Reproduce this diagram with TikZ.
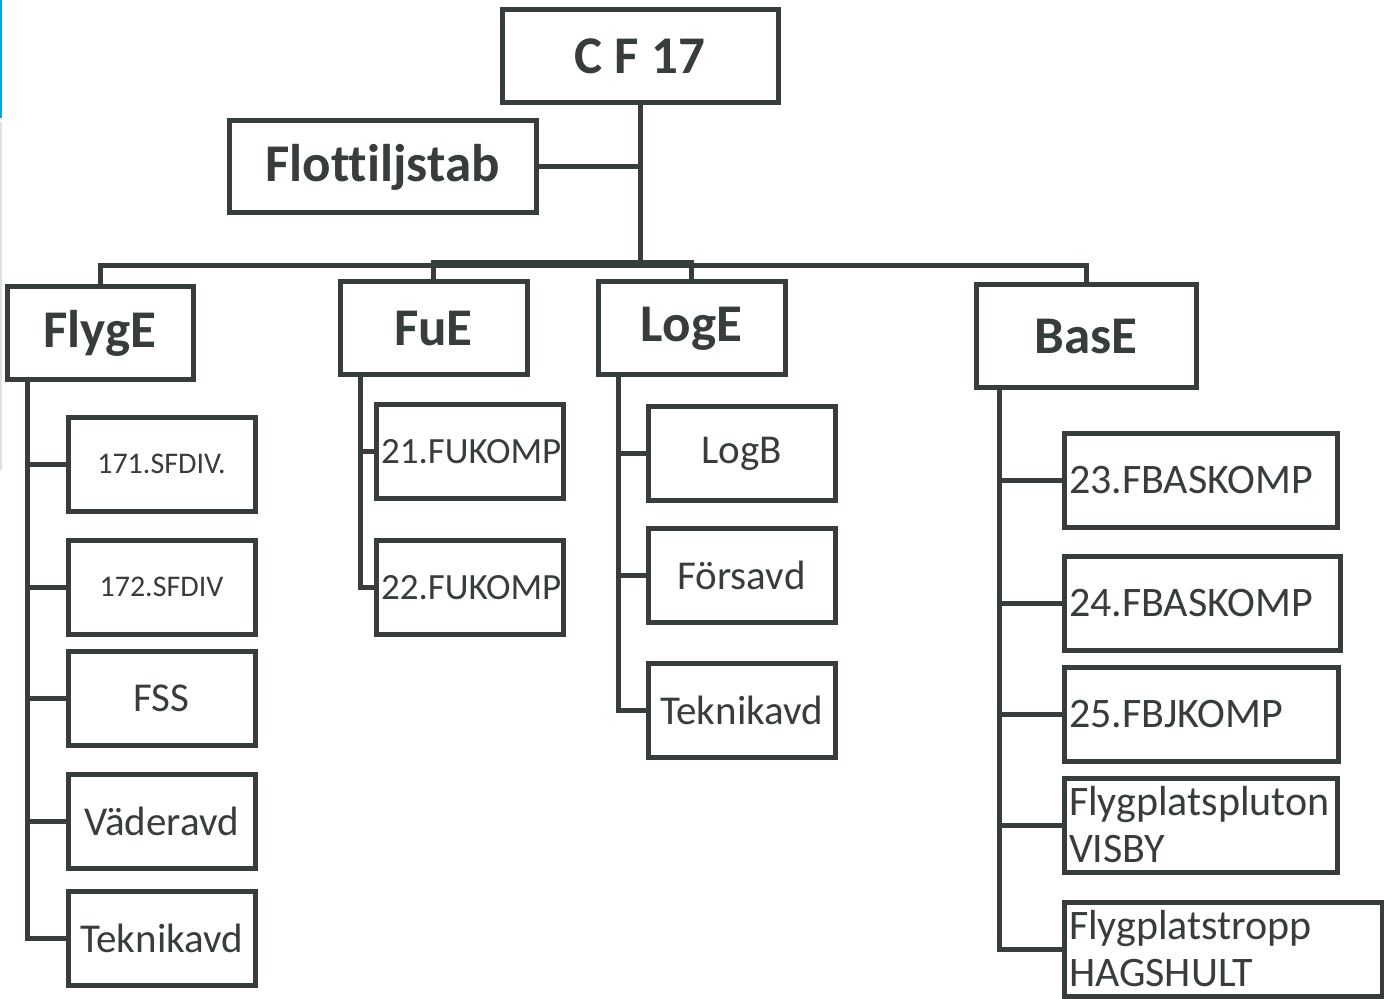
\documentclass[tikz,border=0pt]{standalone}
\usepackage{fontspec}
\setmainfont{Carlito}[Ligatures=NoCommon]
\usepackage{tikz}
\definecolor{orggrey}{RGB}{55,61,59}
\tikzset{
    every node/.style={align=center,text=orggrey,},
    unit/.style={draw=orggrey,line width=2.5pt,rectangle,inner sep=0pt,font=\fontsize{26.5}{31}\selectfont\bfseries,},
    sub/.style={draw=orggrey,line width=2.5pt,rectangle,inner sep=0pt,minimum width=93.5pt,minimum height=47pt,font=\fontsize{20.5}{24}\selectfont,},
    subleft/.style={draw=orggrey,line width=2.5pt,rectangle,inner xsep=2.5pt,inner ysep=0pt,minimum height=47pt,text width=#1,align=left,font=\fontsize{21}{23.5}\selectfont,},
    link/.style={draw=orggrey,line width=2.5pt,},
}

\begin{document}
\begin{tikzpicture}[x=0.5pt,y=-0.5pt]
                \useasboundingbox (0,0) rectangle (1384,999);
                \draw[cyan!90!blue,line width=1pt] (1,0) -- (1,118);
                \draw[black!12,line width=1pt] (1,122) -- (1,470);

                \node[unit,minimum width=138pt,minimum height=46.5pt] (cf) at (640,56.5) {C F 17};
                \node[unit,minimum width=153.5pt,minimum height=46pt] (stab) at (382.5,167) {Flottiljstab};

                \node[unit,minimum width=93pt,minimum height=46.5pt] (flyge) at (100,333.5) {FlygE};
                \node[unit,minimum width=93.5pt,minimum height=46.5pt] (fue) at (433.5,328.5) {FuE};
                \node[unit,minimum width=93.5pt,minimum height=46.5pt] (loge) at (691.5,328.5) {LogE};
                \node[unit,minimum width=110pt,minimum height=51.5pt] (base) at (1086,336.5) {BasE};

                \coordinate (hub) at (640,266);
                \coordinate (bar) at (433.5,263);
                \path[link] (cf.south) edge (hub);
                \path[link] (stab.east) edge (stab.east -| cf.south);
                \draw[link] (flyge.north) |- (hub);
                \draw[link] (base.north) |- (hub);
                \draw[link] (fue.north) -- (bar) -- (bar -| loge.north) -- (loge.north);

                % FlygE
                \node[sub,font=\fontsize{15}{18}\selectfont] (sfdiva) at (161.5,464) {171.SFDIV.};
                \node[sub,font=\fontsize{15}{18}\selectfont] (sfdivb) at (161.5,587) {172.SFDIV};
                \node[sub] (fss) at (161.5,698) {FSS};
                \node[sub] (vader) at (161.5,821) {Väderavd};
                \node[sub] (tekf) at (161.5,938) {Teknikavd};
                \coordinate (flyspine) at (27,380);
                \foreach \c in {sfdiva,sfdivb,fss,vader}
                    \draw[link] (\c.west) -- (\c.west -| flyspine);
                \draw[link] (flyspine) |- (tekf.west);

                % FuE
                \node[subleft=88.5pt,font=\fontsize{18.5}{22}\selectfont] (fuka) at (469.5,451.5) {21.FUKOMP};
                \node[subleft=88.5pt,font=\fontsize{18.5}{22}\selectfont] (fukb) at (469.5,587.5) {22.FUKOMP};
                \coordinate (fuspine) at (360,375);
                \draw[link] (fuka.west) -- (fuka.west -| fuspine);
                \draw[link] (fuspine) |- (fukb.west);

                % LogE
                \node[sub] (logb) at (741.5,453.5) {LogB};
                \node[sub] (fors) at (741.5,575) {Försavd};
                \node[sub] (tekl) at (741.5,710) {Teknikavd};
                \coordinate (logspine) at (618,375);
                \foreach \c in {logb,fors}
                    \draw[link] (\c.west) -- (\c.west -| logspine);
                \draw[link] (logspine) |- (tekl.west);

                % BasE
                \node[subleft=131.5pt] (fba) at (1200.5,480) {23.FBASKOMP};
                \node[subleft=133pt] (fbb) at (1202,603) {24.FBASKOMP};
                \node[subleft=132pt] (fbj) at (1201,714.5) {25.FBJKOMP};
                \node[subleft=131.5pt] (visby) at (1200.5,825) {Flygplatspluton\\VISBY};
                \node[subleft=154pt] (hag) at (1223,949) {Flygplatstropp\\HAGSHULT};
                \coordinate (basspine) at (999,388);
                \foreach \c in {fba,fbb,fbj,visby}
                    \draw[link] (\c.west) -- (\c.west -| basspine);
                \draw[link] (basspine) |- (hag.west);
            \end{tikzpicture}
\end{document}
